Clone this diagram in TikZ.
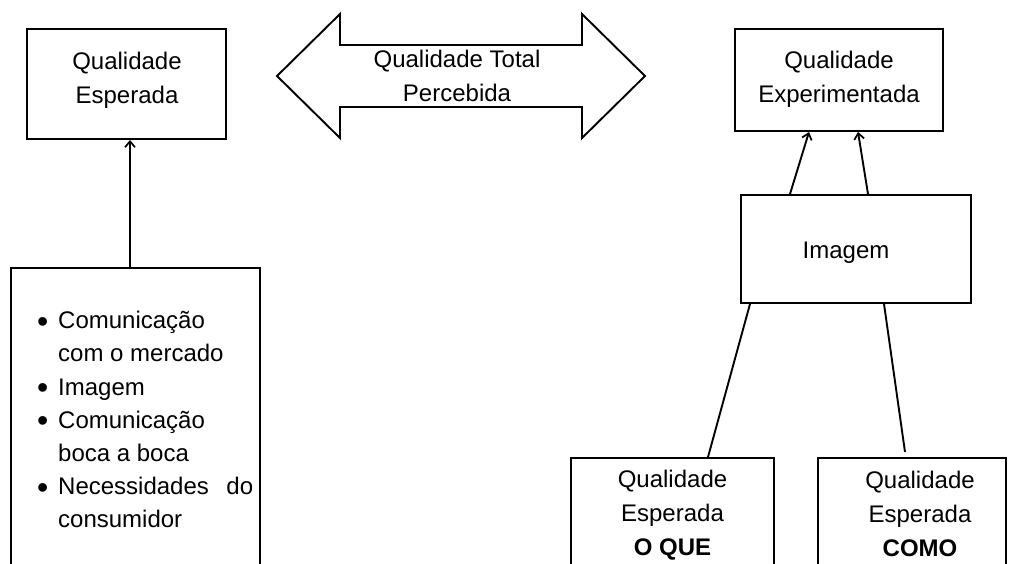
\documentclass[tikz,border=0pt]{standalone}
\usepackage{fontspec}
\setmainfont{Liberation Sans}
\usetikzlibrary{arrows.meta}
\newcommand\itm{\makebox[21pt][l]{\raisebox{-3.5pt}{\fontsize{32}{33.2}\selectfont•}}}
\tikzset{
  box/.style={draw, line width=1.9pt, inner sep=0pt},
  lbl/.style={align=center, font=\fontsize{24}{34}\selectfont},
  up/.style={line width=1.9pt, -{Straight Barb[length=6pt,width=10pt,line width=1.7pt]}},
  link/.style={line width=1.9pt}
}
\begin{document}
\begin{tikzpicture}[x=1pt,y=-1pt]
\useasboundingbox (0,0) rectangle (1016,563);
\clip (0,0) rectangle (1016,563);

% expected quality and its sources
\node[box, minimum width=199pt, minimum height=110pt] (qe) at (126.5,84) {};
\node[lbl] (qet) at (127,80) {Qualidade\\Esperada};
\node[box, minimum width=249pt, minimum height=352pt] (list) at (135.5,444) {};
\node[anchor=north west, align=left, font=\fontsize{24}{33.2}\selectfont, inner sep=0pt] (listt) at (37,311)
  {\itm Comunicação\\
   \hspace*{21pt}com o mercado\\
   \itm Imagem\\
   \itm Comunicação\\
   \hspace*{21pt}boca a boca\\
   \itm\makebox[195pt][s]{Necessidades do}\\
   \hspace*{21pt}consumidor};
\coordinate (c1) at (130,0);
\draw[up] (list.north -| c1) -- (qe.south -| c1);

% total perceived quality
\draw[line width=1.9pt, line join=miter] (277,76) -- (340,14) -- (340,45) -- (582,45) -- (582,14)
  -- (645,76) -- (582,138) -- (582,107) -- (340,107) -- (340,138) -- cycle;
\node[lbl] (tot) at (457,76) {Qualidade Total\\Percebida};

% experienced quality
\node[box, minimum width=208pt, minimum height=102pt] (qx) at (839,80) {};
\node[lbl] (qxt) at (839,79) {Qualidade\\Experimentada};
\node[box, minimum width=230pt, minimum height=108pt] (img) at (856,249) {};
\node[lbl] (imgt) at (846,253) {Imagem};
\draw[up] ([xshift=-66pt]img.north) -- ([xshift=-30pt]qx.south);
\draw[up] ([xshift=12pt]img.north) -- ([xshift=19pt]qx.south);

\node[box, minimum width=203pt, minimum height=162pt] (oque) at (672.5,539) {};
\node[lbl] (oquet) at (672.5,515) {Qualidade\\Esperada\\\textbf{O QUE}};
\node[box, minimum width=188pt, minimum height=162pt] (como) at (912,539) {};
\node[lbl] (comot) at (920,514) {Qualidade\\Esperada\\\textbf{COMO}};
\draw[link] ([xshift=-106pt]img.south) -- ([xshift=35.5pt]oque.north);
\draw[link] ([xshift=28pt]img.south) -- ([xshift=-7pt,yshift=5pt]como.north);
\end{tikzpicture}
\end{document}
